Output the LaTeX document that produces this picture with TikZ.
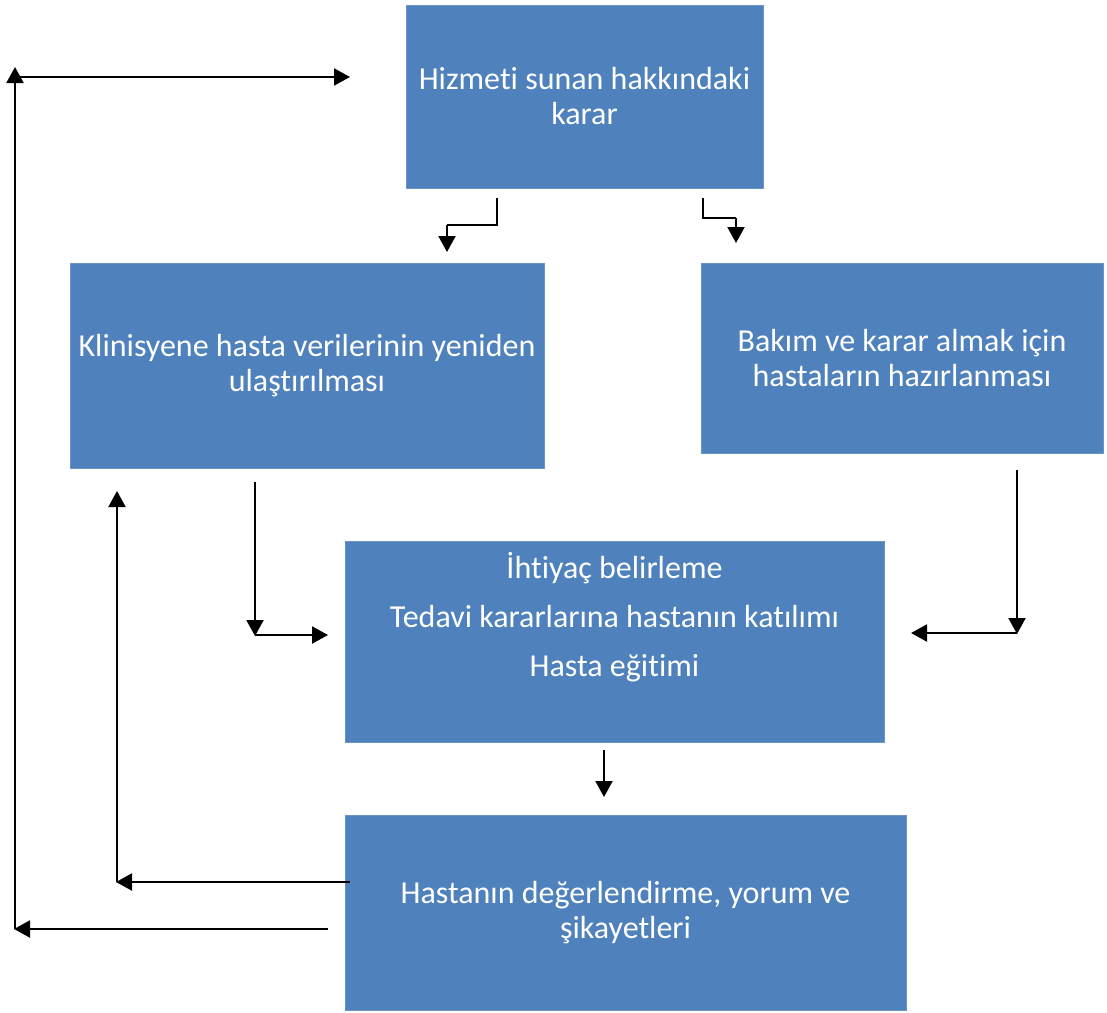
\documentclass[tikz,border=0pt]{standalone}
\usepackage{fontspec}
\setmainfont{Carlito}[Ligatures={NoCommon}]
\usetikzlibrary{arrows.meta}
\definecolor{boxblue}{HTML}{4F81BD}
\tikzset{
  box/.style={fill=boxblue,draw=boxblue!85!white,line width=0.8pt,text=white,align=center,
    font=\fontsize{32}{35}\selectfont,inner sep=0pt},
  conn/.style={line width=2pt,-{Triangle[length=16pt,width=17pt]}},
  line/.style={line width=2pt}
}
\begin{document}
\begin{tikzpicture}[x=1pt,y=-1pt]
\useasboundingbox[fill=white] (0,0) rectangle (1107,1012);
% boxes
\node[box,minimum width=357pt,minimum height=183pt] (decision) at (584.5,96.5) {Hizmeti sunan hakkındaki\\karar};
\node[box,minimum width=474pt,minimum height=205pt] (data) at (307,365.5) {Klinisyene hasta verilerinin yeniden\\ulaştırılması};
\node[box,minimum width=402pt,minimum height=190pt] (prep) at (902,358) {Bakım ve karar almak için\\hastaların hazırlanması};
\node[box,minimum width=539pt,minimum height=201pt] (needs) at (614.5,641.5) {};
\node[text=white,align=center,font=\fontsize{32}{49}\selectfont] (needstext) at (614.5,617) {İhtiyaç belirleme\\Tedavi kararlarına hastanın katılımı\\Hasta eğitimi};
\node[box,minimum width=561pt,minimum height=195pt] (feedback) at (625.5,912.5) {Hastanın değerlendirme, yorum ve\\şikayetleri};
% connector points
\coordinate (d1) at (497,198); \coordinate (d2) at (497,225); \coordinate (d3) at (447,225); \coordinate (d4) at (447,252);
\coordinate (e1) at (703,198); \coordinate (e2) at (703,218); \coordinate (e3) at (736,218); \coordinate (e4) at (736,243);
\coordinate (l1) at (255,482); \coordinate (l2) at (255,636); \coordinate (l3) at (328,635);
\coordinate (r1) at (1017,470); \coordinate (r2) at (1017,634); \coordinate (r3) at (911,633);
\coordinate (m1) at (604,750); \coordinate (m2) at (604,797);
\coordinate (f1) at (350,882); \coordinate (f2) at (116,882); \coordinate (f3) at (117,491);
\coordinate (g1) at (328,929); \coordinate (g2) at (14,929); \coordinate (g3) at (15,67); \coordinate (g4) at (350,77);
% arrows
\draw[line] (d1) -- (d2) -- (d3);
\draw[conn] (d3) -- (d4);
\draw[line] (e1) -- (e2) -- (e3);
\draw[conn] (e3) -- (e4);
\draw[conn] (l1) -- (l2);
\draw[conn] (255,635) -- (l3);
\draw[conn] (r1) -- (r2);
\draw[conn] (1017,633) -- (r3);
\draw[conn] (m1) -- (m2);
\draw[conn] (f1) -- (f2);
\draw[conn] (117,882) -- (f3);
\draw[conn] (g1) -- (g2);
\draw[conn] (15,929) -- (g3);
\draw[conn] (15,77) -- (g4);
\end{tikzpicture}
\end{document}
